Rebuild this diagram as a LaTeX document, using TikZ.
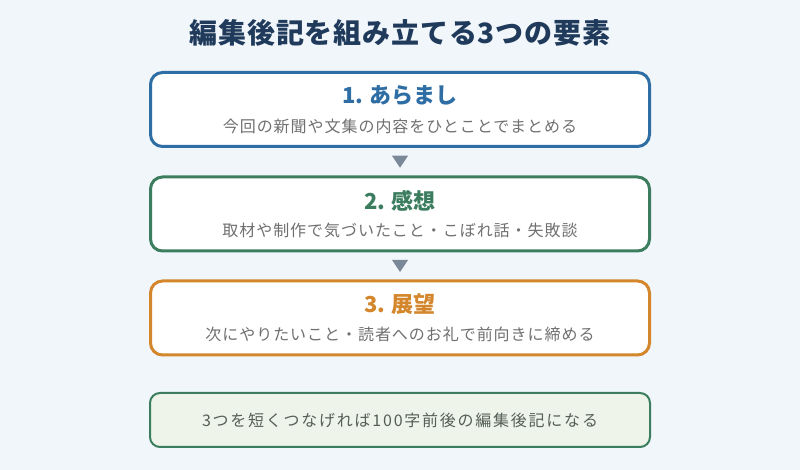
\documentclass[tikz,border=0pt]{standalone}
\usepackage{fontspec}
\setmainfont{Noto Sans CJK JP}
\usetikzlibrary{calc}
\definecolor{bgc}{HTML}{F1F6FA}
\definecolor{titlec}{HTML}{1F3A5A}
\definecolor{bluec}{HTML}{2F6EA5}
\definecolor{greenc}{HTML}{3B7D5E}
\definecolor{orangec}{HTML}{D3862B}
\definecolor{subc}{HTML}{707070}
\definecolor{tric}{HTML}{7A8898}
\definecolor{notefill}{HTML}{EEF4E9}
\definecolor{notetext}{HTML}{555E57}
\tikzset{
  stepbox/.style={draw=#1, line width=3pt, fill=white, rounded corners=12pt,
    minimum width=499pt, minimum height=74pt, inner sep=0pt},
  head/.style={font=\bfseries\fontsize{22}{26}\selectfont, text=#1, inner sep=0pt},
  sub/.style={font=\fontsize{16}{19}\selectfont\addfontfeature{LetterSpace=6}, text=subc, inner sep=0pt},
  notebox/.style={draw=greenc, line width=2pt, fill=notefill, rounded corners=10pt,
    minimum width=500pt, minimum height=54pt, inner sep=0pt,
    font=\fontsize{16}{19}\selectfont\addfontfeature{LetterSpace=11}, text=notetext},
  tri/.style={fill=tric}
}
\begin{document}
\begin{tikzpicture}[x=1pt,y=1pt]
\path[fill=bgc,use as bounding box] (0,0) rectangle (800,470);
\node[font=\bfseries\fontsize{28}{32}\selectfont\addfontfeature{LetterSpace=3}, text=titlec, inner sep=0pt] (title) at (400,437) {編集後記を組み立てる3つの要素};

\node[stepbox=bluec] (b1) at (400,360.5) {};
\node[stepbox=greenc] (b2) at (400,256) {};
\node[stepbox=orangec] (b3) at (400,152) {};

\node[head=bluec] (h1) at ([yshift=13.5pt]b1.center) {1. あらまし};
\node[sub] (s1) at ([yshift=-16.5pt]b1.center) {今回の新聞や文集の内容をひとことでまとめる};
\node[head=greenc] (h2) at ([yshift=13.5pt]b2.center) {2. 感想};
\node[sub] (s2) at ([yshift=-16.5pt]b2.center) {取材や制作で気づいたこと・こぼれ話・失敗談};
\node[head=orangec] (h3) at ([yshift=13.5pt]b3.center) {3. 展望};
\node[sub] (s3) at ([yshift=-16.5pt]b3.center) {次にやりたいこと・読者へのお礼で前向きに締める};

\coordinate (t1) at ($(b1.south)!0.5!(b2.north)$);
\coordinate (t2) at ($(b2.south)!0.5!(b3.north)$);
\fill[tri] ([shift={(-8,6)}]t1) -- ([shift={(8,6)}]t1) -- ([shift={(0,-6)}]t1) -- cycle;
\fill[tri] ([shift={(-8,6)}]t2) -- ([shift={(8,6)}]t2) -- ([shift={(0,-6)}]t2) -- cycle;

\node[notebox] (note) at (400,50) {3つを短くつなげれば100字前後の編集後記になる};
\end{tikzpicture}
\end{document}
